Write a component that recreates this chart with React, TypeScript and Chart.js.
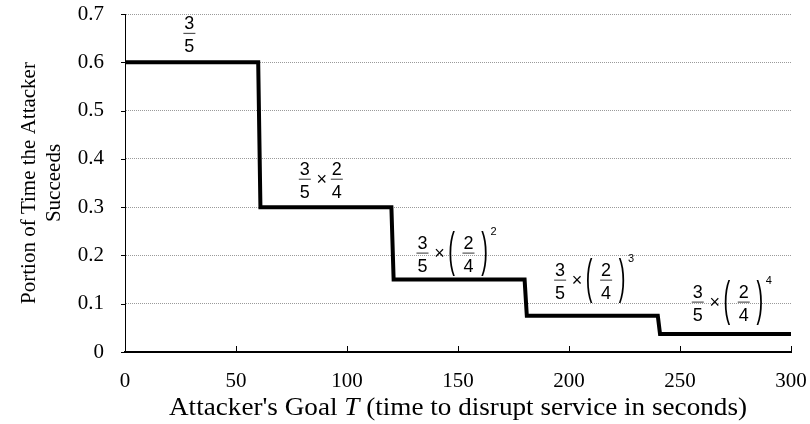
import React, { useEffect, useRef } from "react";
import { Chart, registerables } from "chart.js";

Chart.register(...registerables);

// Step function data: attacker's goal T (seconds) vs. portion of time the attacker succeeds
const stepT = [0, 60, 61, 120, 121, 180, 181, 240, 241, 300];
const stepP = [0.6, 0.6, 0.3, 0.3, 0.15, 0.15, 0.075, 0.075, 0.0375, 0.0375];

// Axis settings
const xTickValues = [0, 50, 100, 150, 200, 250, 300];
const yTickValues = [0, 0.1, 0.2, 0.3, 0.4, 0.5, 0.6, 0.7];
const yTitleLines = ["Portion of Time the Attacker", "Succeeds"];
const xTitleBefore = "Attacker's Goal ";
const xTitleItalic = "T";
const xTitleAfter = " (time to disrupt service in seconds)";

// Formula labels: anchor (T, P) of the first fraction bar, and the power of (2/4)
const labelT = [29, 81, 134, 196, 258];
const labelP = [0.66, 0.358, 0.205, 0.149, 0.1035];
const labelPower = [0, 1, 2, 3, 4];

const serif = '"Liberation Serif", "Times New Roman", serif';
const sans = '"Liberation Sans", Arial, sans-serif';

function drawFrac(ctx: CanvasRenderingContext2D, cx: number, by: number, num: string, den: string) {
  ctx.font = `18px ${sans}`;
  ctx.textAlign = "center";
  ctx.textBaseline = "alphabetic";
  ctx.fillText(num, cx, by - 4);
  ctx.fillText(den, cx, by + 19);
  ctx.fillStyle = "#555";
  ctx.fillRect(cx - 6, by - 0.5, 12, 1.2);
  ctx.fillStyle = "#000";
}

function drawParen(ctx: CanvasRenderingContext2D, x: number, by: number, ch: string) {
  ctx.save();
  ctx.translate(x, by);
  ctx.scale(1, 2.4);
  ctx.font = `20px ${sans}`;
  ctx.textAlign = "center";
  ctx.textBaseline = "middle";
  ctx.fillText(ch, 0, 0);
  ctx.restore();
}

const overlayPlugin = {
  id: "overlay",
  afterDraw(chart: any) {
    const ctx: CanvasRenderingContext2D = chart.ctx;
    const xs = chart.scales.x;
    const ys = chart.scales.y;
    ctx.save();
    ctx.strokeStyle = "#000";
    ctx.lineWidth = 1;
    // inside tick marks on x axis
    const y0 = ys.getPixelForValue(0);
    xTickValues.forEach((v) => {
      if (v === 0) return;
      const px = Math.round(xs.getPixelForValue(v)) + 0.5;
      ctx.beginPath();
      ctx.moveTo(px, y0);
      ctx.lineTo(px, y0 - 6);
      ctx.stroke();
    });
    // outside tick marks on y axis
    const x0 = xs.getPixelForValue(0);
    yTickValues.forEach((v) => {
      const py = Math.round(ys.getPixelForValue(v)) + 0.5;
      ctx.beginPath();
      ctx.moveTo(x0, py);
      ctx.lineTo(x0 - 4, py);
      ctx.stroke();
    });
    // x axis title with italic T, slightly widened as in the original
    ctx.fillStyle = "#000";
    ctx.textBaseline = "alphabetic";
    ctx.textAlign = "left";
    const regular = `25px ${serif}`;
    const italic = `italic 25px ${serif}`;
    ctx.font = regular;
    const w1 = ctx.measureText(xTitleBefore).width;
    const w3 = ctx.measureText(xTitleAfter).width;
    ctx.font = italic;
    const w2 = ctx.measureText(xTitleItalic).width;
    const total = w1 + w2 + w3;
    const stretch = 578 / total;
    ctx.save();
    ctx.translate(458, 415);
    ctx.scale(stretch, 1);
    let x = -total / 2;
    ctx.font = regular;
    ctx.fillText(xTitleBefore, x, 0);
    x += w1;
    ctx.font = italic;
    ctx.fillText(xTitleItalic, x, 0);
    x += w2;
    ctx.font = regular;
    ctx.fillText(xTitleAfter, x, 0);
    ctx.restore();

    // formula labels
    labelT.forEach((t, i) => {
      const ax = xs.getPixelForValue(t);
      const by = ys.getPixelForValue(labelP[i]);
      const p = labelPower[i];
      drawFrac(ctx, ax, by, "3", "5");
      if (p === 0) return;
      ctx.font = `18px ${sans}`;
      ctx.textAlign = "center";
      ctx.textBaseline = "middle";
      ctx.fillText("\u00d7", ax + 17, by + 1);
      if (p === 1) {
        drawFrac(ctx, ax + 32, by, "2", "4");
        return;
      }
      drawParen(ctx, ax + 29, by, "(");
      drawFrac(ctx, ax + 46, by, "2", "4");
      drawParen(ctx, ax + 62, by, ")");
      ctx.font = `11px ${sans}`;
      ctx.textAlign = "center";
      ctx.textBaseline = "middle";
      ctx.fillText(String(p), ax + 71, by - 21);
    });
    ctx.restore();
  },
};

export default function App() {
  const ref = useRef<HTMLCanvasElement | null>(null);
  useEffect(() => {
    if (!ref.current) return;
    const chart = new Chart(ref.current, {
      type: "line",
      data: {
        datasets: [
          {
            data: stepT.map((t, i) => ({ x: t, y: stepP[i] })),
            borderColor: "#000",
            borderWidth: 4,
            pointRadius: 0,
            fill: false,
            tension: 0,
          },
        ],
      },
      options: {
        animation: false,
        responsive: true,
        maintainAspectRatio: false,
        layout: { padding: { top: 14, right: 19, left: 0, bottom: 0 } },
        plugins: { legend: { display: false }, tooltip: { enabled: false } },
        scales: {
          x: {
            type: "linear",
            min: 0,
            max: 300,
            ticks: {
              stepSize: 50,
              padding: 0,
              maxRotation: 0,
              color: "#000",
              font: { family: serif, size: 21 },
            },
            grid: {
              display: true,
              drawOnChartArea: false,
              drawTicks: true,
              tickLength: 17,
              tickColor: "rgba(0,0,0,0)",
            },
            border: { display: true, color: "#000", width: 2 },
            afterFit: (s: any) => {
              s.height = 72;
            },
          },
          y: {
            type: "linear",
            min: 0,
            max: 0.7,
            ticks: {
              stepSize: 0.1,
              padding: 0,
              color: "#000",
              font: { family: serif, size: 21 },
              callback: (v: any) => String(Math.round(Number(v) * 10) / 10),
            },
            grid: {
              color: "#9a9a9a",
              lineWidth: 1,
              drawTicks: true,
              tickLength: 21,
              tickColor: "rgba(0,0,0,0)",
            },
            border: { display: true, color: "#000", width: 1, dash: [1, 1] },
            title: {
              display: true,
              text: yTitleLines,
              color: "#000",
              font: { family: serif, size: 21, lineHeight: 1.2 },
              padding: { top: 17, bottom: 0 },
            },
            afterFit: (s: any) => {
              s.width = 125;
            },
          },
        },
      },
      plugins: [overlayPlugin],
    });
    return () => chart.destroy();
  }, []);
  return (
    <div style={{ position: "absolute", left: 0, top: 0, width: 810, height: 424 }}>
      <canvas ref={ref} />
    </div>
  );
}
